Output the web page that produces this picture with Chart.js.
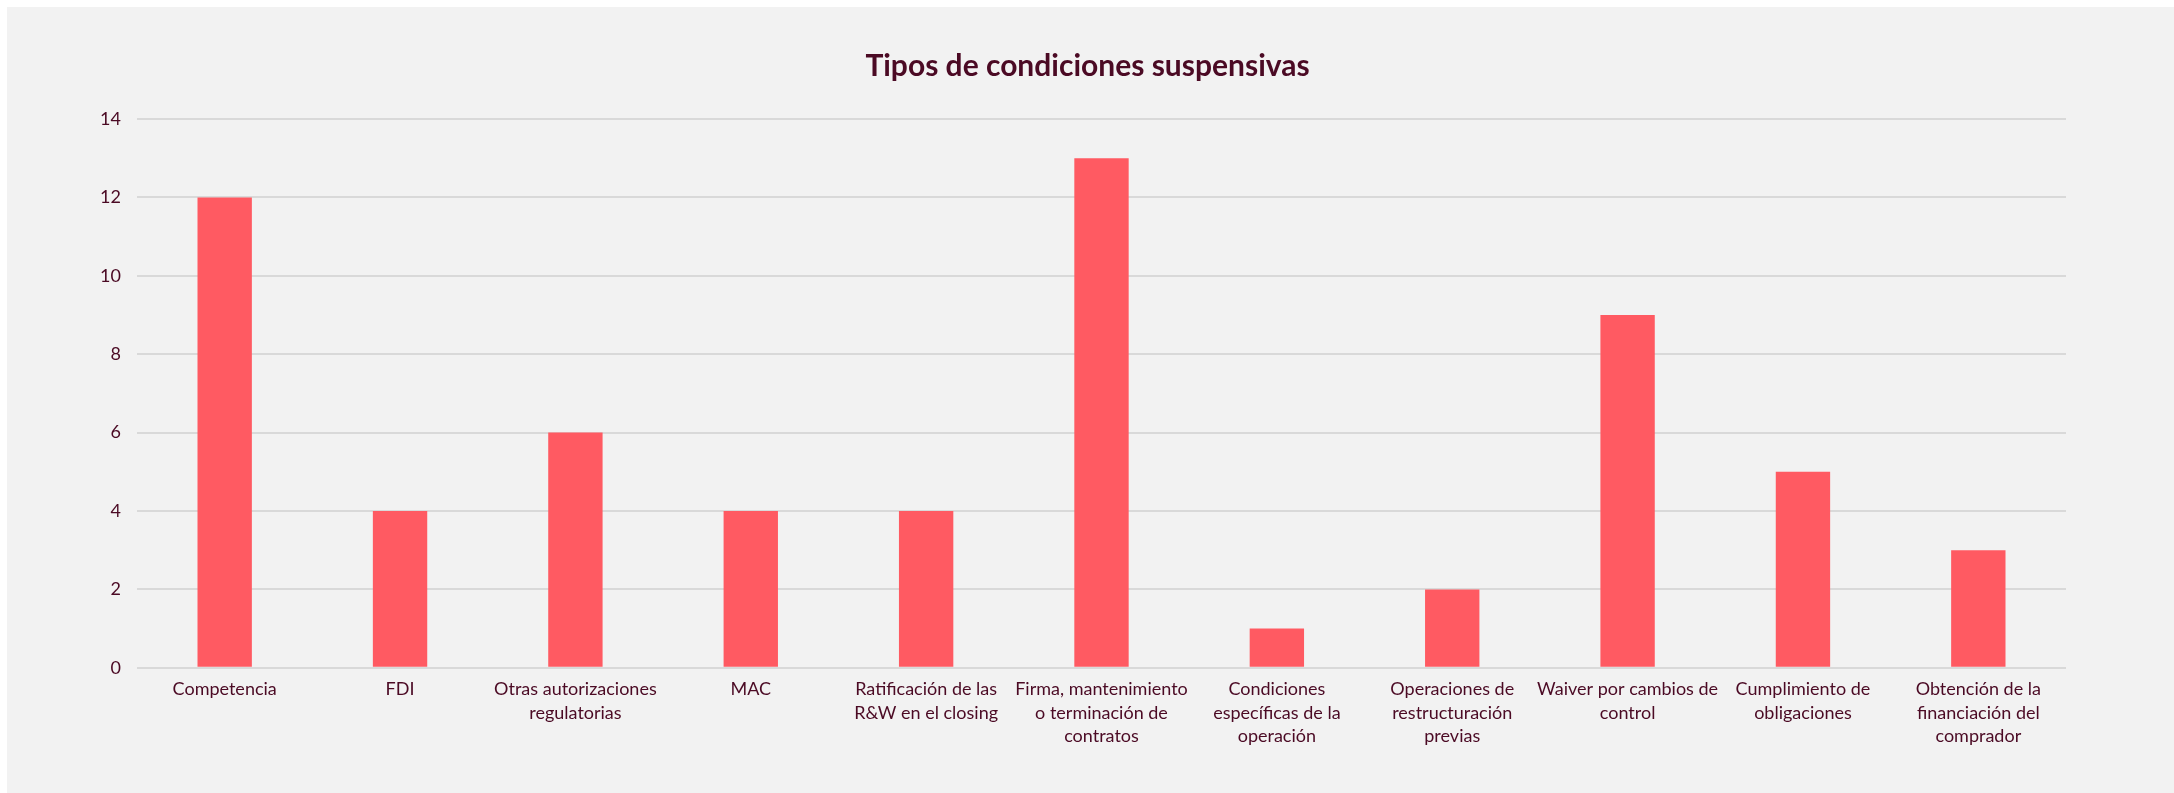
<!DOCTYPE html>
<html lang="es">
<head>
    <meta charset="UTF-8">
    <title>Tipos de condiciones suspensivas</title>
    <script src="https://cdn.jsdelivr.net/npm/chart.js"></script>
    <style>
        html, body {
            margin: 0;
            padding: 0;
            background: #ffffff;
        }
        .chart-box {
            position: absolute;
            left: 7px;
            top: 7px;
            width: 2167px;
            height: 786px;
            background: #f2f2f2;
        }
    </style>
</head>
<body>

<div class="chart-box">
    <canvas id="chart"></canvas>
</div>

<script>
// Categories (wrapped the way the source shows them)
const categories = [
    ["Competencia"],
    ["FDI"],
    ["Otras autorizaciones", "regulatorias"],
    ["MAC"],
    ["Ratificación de las", "R&W en el closing"],
    ["Firma, mantenimiento", "o terminación de", "contratos"],
    ["Condiciones", "específicas de la", "operación"],
    ["Operaciones de", "restructuración", "previas"],
    ["Waiver por cambios de", "control"],
    ["Cumplimiento de", "obligaciones"],
    ["Obtención de la", "financiación del", "comprador"]
];

const counts = [12, 4, 6, 4, 4, 13, 1, 2, 9, 5, 3];

const yTicks = [0, 2, 4, 6, 8, 10, 12, 14];

const chartTitle = 'Tipos de condiciones suspensivas';

const textColor = '#4b0a24';
const barColor = '#ff5a62';
const gridColor = '#d9d9d9';

// title centred on the whole panel, not only on the plot area
const centredTitle = {
    id: 'centredTitle',
    afterDraw(chart) {
        const c = chart.ctx;
        c.save();
        c.fillStyle = textColor;
        c.font = 'bold 30px Lato';
        c.textAlign = 'center';
        c.textBaseline = 'middle';
        c.fillText(chartTitle, chart.width / 2 - 3, 59);
        c.restore();
    }
};

const ctx = document.getElementById('chart').getContext('2d');
new Chart(ctx, {
    type: 'bar',
    data: {
        labels: categories,
        datasets: [{
            label: chartTitle,
            data: counts,
            backgroundColor: barColor,
            borderWidth: 0,
            categoryPercentage: 1,
            barPercentage: 0.31
        }]
    },
    options: {
        responsive: true,
        maintainAspectRatio: false,
        animation: false,
        layout: {
            padding: { left: 0, right: 108, top: 112, bottom: 35 }
        },
        plugins: {
            legend: { display: false },
            tooltip: { enabled: false },
            title: { display: false }
        },
        scales: {
            x: {
                grid: { display: false, drawTicks: false },
                border: { display: false },
                ticks: {
                    color: textColor,
                    font: { family: 'Lato', size: 18, lineHeight: 1.3 },
                    padding: 10,
                    maxRotation: 0,
                    autoSkip: false
                }
            },
            y: {
                min: 0,
                max: 14,
                afterFit: (scale) => { scale.width = 130; },
                afterBuildTicks: (scale) => {
                    scale.ticks = yTicks.map(v => ({ value: v }));
                },
                grid: {
                    color: gridColor,
                    lineWidth: 2,
                    drawTicks: false
                },
                border: { display: false },
                ticks: {
                    color: textColor,
                    font: { family: 'Lato', size: 18 },
                    padding: 16
                }
            }
        }
    },
    plugins: [centredTitle]
});
</script>
</body>
</html>
